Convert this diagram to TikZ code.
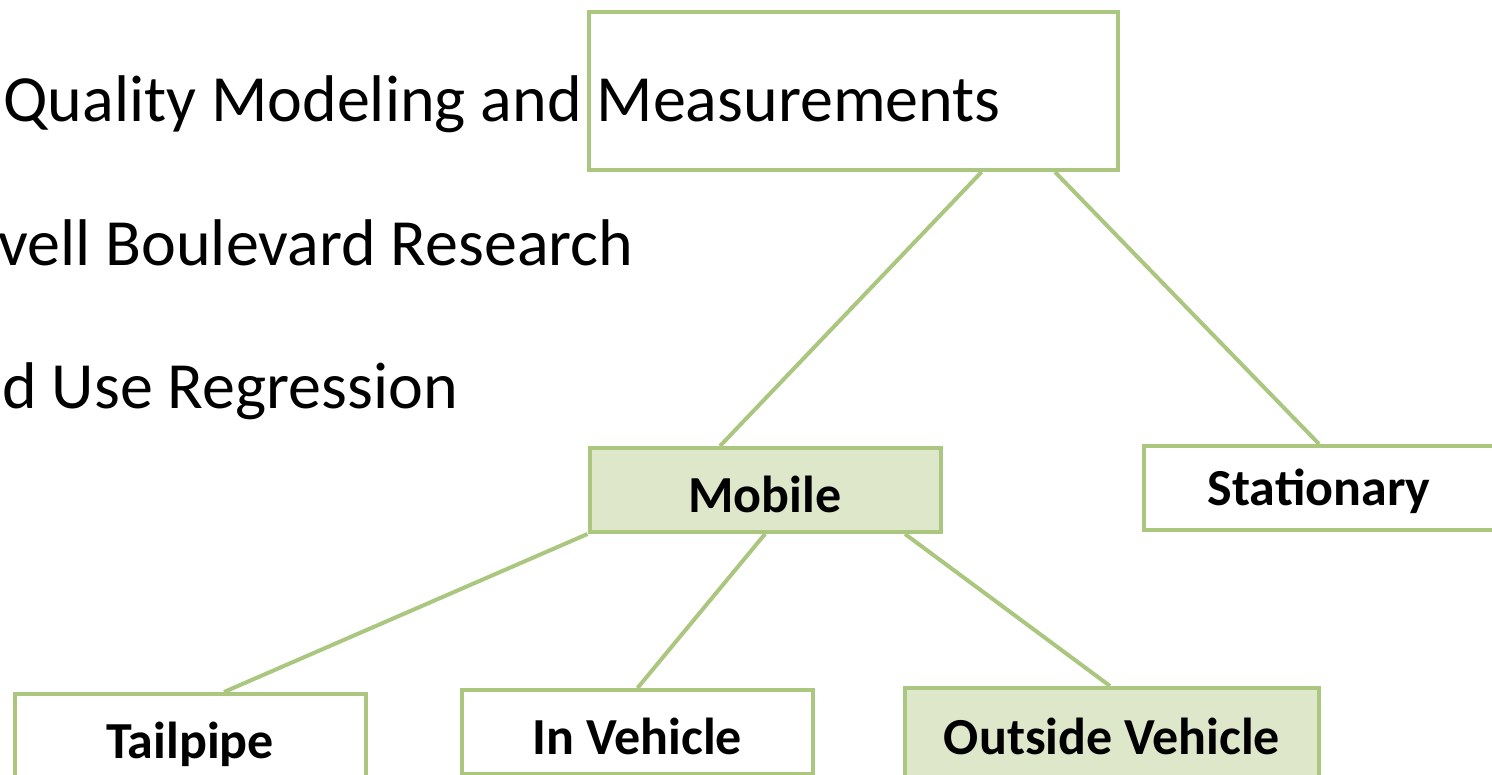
\documentclass[tikz,border=0pt]{standalone}
\usepackage{fontspec}
\setmainfont{Carlito}
\usepackage{xcolor}
\usepackage{tikz}
\usetikzlibrary{positioning}
\definecolor{leafline}{HTML}{ABC77F}
\definecolor{leaffill}{HTML}{DEE7CA}

\begin{document}
\begin{tikzpicture}[x=0.5pt,y=-0.5pt,
    box/.style={draw=leafline, line width=2pt, fill=white, inner sep=0pt,
        minimum width=175.5pt, minimum height=42pt,
        text height=22pt, text depth=0pt,
        font=\fontsize{26}{30}\selectfont\bfseries},
    boxhi/.style={box, fill=leaffill},
    link/.style={draw=leafline, line width=2pt},
    item/.style={anchor=base west, inner sep=0pt, font=\fontsize{33}{40}\selectfont}]
    \useasboundingbox (0,0) rectangle (1492,775);
    \clip (0,0) rectangle (1492,775);

    \node[item] (item1) at (3,122) {Quality Modeling and Measurements};
    \node[item] (item2) at (-2,265) {vell Boulevard Research};
    \node[item] (item3) at (2,408) {d Use Regression};

    \node[box, minimum width=264.5pt, minimum height=79pt, fill=none] (top) at (853.5,91) {};
    \node[boxhi] (mob) at (765,490) {Mobile};
    \node[box, text height=17pt] (stat) at (1319,488) {Stationary};
    \node[box] (tail) at (190,736) {Tailpipe};
    \node[box] (inveh) at (637.5,732) {In Vehicle};
    \node[boxhi, minimum width=207pt, minimum height=48pt, text height=18pt] (outveh) at (1112,736) {Outside Vehicle};

    \draw[link] ([xshift=64pt]top.south) -- ([xshift=-22.5pt]mob.north);
    \draw[link] ([xshift=100.75pt]top.south) -- (stat.north);
    \draw[link] (mob.south west) -- ([xshift=17pt]tail.north);
    \draw[link] (mob.south) -- (inveh.north);
    \draw[link] ([xshift=70pt]mob.south) -- ([xshift=-1pt]outveh.north);
\end{tikzpicture}
\end{document}
